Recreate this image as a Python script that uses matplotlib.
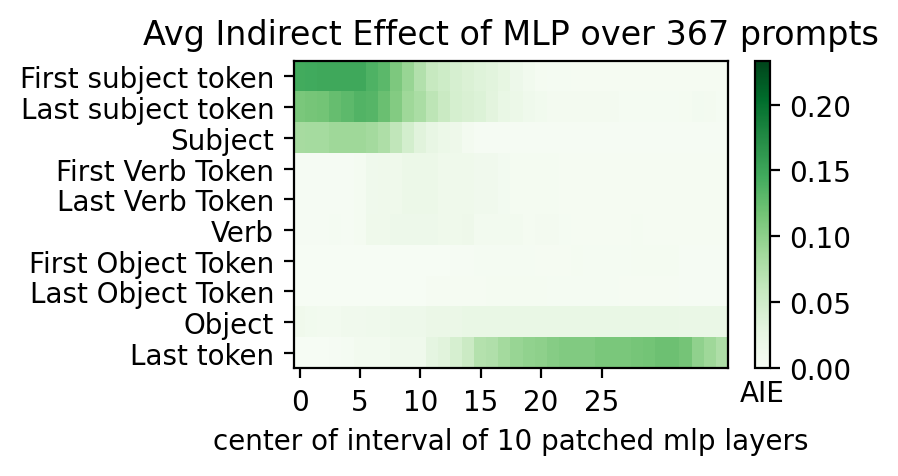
import matplotlib
matplotlib.use("Agg")
import matplotlib.pyplot as plt
import numpy as np

# token labels (rows) and average indirect effect per patched layer window (columns)
labels = ["First subject token", "Last subject token", "Subject",
          "First Verb Token", "Last Verb Token", "Verb",
          "First Object Token", "Last Object Token", "Object", "Last token"]

first_subject = [0.145, 0.146, 0.148, 0.148, 0.148, 0.148, 0.138, 0.131, 0.111, 0.093,
                 0.074, 0.059, 0.052, 0.044, 0.040, 0.035, 0.032, 0.027, 0.016, 0.010,
                 0.006, 0.005, 0.005, 0.004, 0.004, 0.004, 0.004, 0.004, 0.004, 0.004,
                 0.004, 0.004, 0.004, 0.004, 0.004, 0.004]
last_subject = [0.112, 0.115, 0.117, 0.124, 0.130, 0.136, 0.133, 0.122, 0.107, 0.089,
                0.081, 0.066, 0.056, 0.045, 0.041, 0.038, 0.031, 0.023, 0.018, 0.013,
                0.010, 0.0065, 0.0065, 0.0065, 0.0065, 0.0065, 0.0065, 0.005, 0.005, 0.005,
                0.005, 0.005, 0.006, 0.008, 0.007, 0.005]
subject = [0.083, 0.084, 0.084, 0.089, 0.089, 0.089, 0.085, 0.078, 0.063, 0.047,
           0.033, 0.024, 0.018, 0.015, 0.0065, 0.003, 0.003, 0.003, 0.003, 0.003,
           0.003, 0.003, 0.003, 0.003, 0.003, 0.003, 0.003, 0.003, 0.003, 0.003,
           0.003, 0.003, 0.003, 0.003, 0.003, 0.003]
first_verb = [0.003, 0.003, 0.003, 0.003, 0.003, 0.006, 0.013, 0.014, 0.014, 0.018,
              0.018, 0.018, 0.014, 0.014, 0.014, 0.011, 0.011, 0.008, 0.006, 0.006,
              0.006, 0.006, 0.004, 0.004, 0.004, 0.004, 0.004, 0.004, 0.004, 0.004,
              0.004, 0.004, 0.004, 0.004, 0.004, 0.004]
last_verb = [0.003, 0.003, 0.003, 0.003, 0.003, 0.006, 0.013, 0.014, 0.014, 0.018,
             0.018, 0.018, 0.014, 0.014, 0.014, 0.011, 0.011, 0.008, 0.006, 0.006,
             0.006, 0.006, 0.004, 0.004, 0.004, 0.004, 0.004, 0.004, 0.004, 0.004,
             0.004, 0.004, 0.004, 0.004, 0.004, 0.004]
verb = [0.003, 0.003, 0.003, 0.005, 0.003, 0.006, 0.014, 0.014, 0.016, 0.016,
        0.016, 0.016, 0.014, 0.014, 0.015, 0.009, 0.009, 0.009, 0.009, 0.006,
        0.007, 0.007, 0.005, 0.004, 0.004, 0.004, 0.004, 0.004, 0.006, 0.004,
        0.004, 0.004, 0.004, 0.004, 0.004, 0.004]
first_object = [0.002, 0.002, 0.002, 0.002, 0.002, 0.002, 0.002, 0.002, 0.002, 0.002,
                0.002, 0.002, 0.002, 0.003, 0.003, 0.005, 0.005, 0.005, 0.005, 0.005,
                0.004, 0.004, 0.004, 0.006, 0.005, 0.005, 0.005, 0.005, 0.006, 0.006,
                0.006, 0.006, 0.003, 0.003, 0.003, 0.003]
last_object = [0.002, 0.002, 0.002, 0.002, 0.002, 0.002, 0.002, 0.002, 0.002, 0.002,
               0.002, 0.004, 0.004, 0.004, 0.004, 0.004, 0.006, 0.006, 0.006, 0.006,
               0.006, 0.005, 0.005, 0.005, 0.005, 0.005, 0.005, 0.004, 0.004, 0.004,
               0.004, 0.004, 0.003, 0.003, 0.003, 0.003]
obj = [0.012, 0.010, 0.009, 0.009, 0.011, 0.011, 0.013, 0.013, 0.016, 0.016,
       0.016, 0.020, 0.020, 0.020, 0.022, 0.022, 0.022, 0.022, 0.022, 0.022,
       0.022, 0.022, 0.022, 0.022, 0.022, 0.022, 0.022, 0.022, 0.022, 0.022,
       0.022, 0.022, 0.021, 0.021, 0.021, 0.021]
last_token = [0.001, 0.001, 0.001, 0.003, 0.005, 0.009, 0.009, 0.009, 0.013, 0.013,
              0.013, 0.029, 0.033, 0.044, 0.055, 0.073, 0.076, 0.085, 0.093, 0.098,
              0.100, 0.105, 0.108, 0.108, 0.108, 0.112, 0.112, 0.112, 0.115, 0.117,
              0.121, 0.121, 0.116, 0.099, 0.089, 0.078]

differences = np.array([first_subject, last_subject, subject, first_verb, last_verb,
                        verb, first_object, last_object, obj, last_token])
window = 10
n_prompts = 367

fig = plt.figure(figsize=(4.49, 2.385), dpi=200)
ax = fig.add_axes([0.327, 0.226, 0.484, 0.644])
cax = fig.add_axes([0.841, 0.226, 0.016, 0.644])

h = ax.pcolor(differences, cmap="Greens", vmin=0, vmax=0.233)
ax.invert_yaxis()
ax.set_yticks([0.5 + i for i in range(len(differences))])
ax.set_xticks([0.5 + i for i in range(0, differences.shape[1] - 6, 5)])
ax.set_xticklabels(list(range(0, differences.shape[1] - 6, 5)))
ax.set_yticklabels(labels)
ax.set_title(f"Avg Indirect Effect of MLP over {n_prompts} prompts")
ax.set_xlabel(f"center of interval of {window} patched mlp layers")

cb = fig.colorbar(h, cax=cax)
cb.ax.set_title("AIE", y=-0.16, fontsize=10)

fig.savefig("out.png", dpi=200)
